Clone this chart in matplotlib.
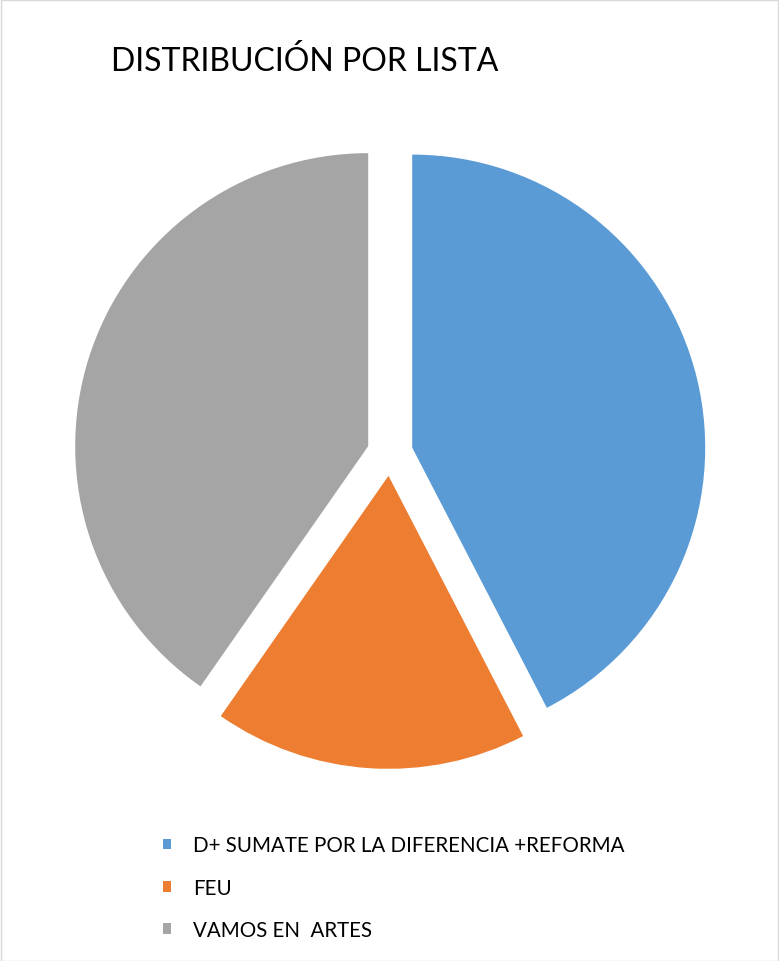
import matplotlib.pyplot as plt
from matplotlib.patches import Rectangle

# slice shares (%)
labels = ["D+ SUMATE POR LA DIFERENCIA +REFORMA", "FEU", "VAMOS EN  ARTES"]
shares = [42.4, 17.3, 40.3]
colors = ["#5B9BD5", "#ED7D31", "#A5A5A5"]
title = "DISTRIBUCIÓN POR LISTA"

W, H = 779, 962
fig = plt.figure(figsize=(W / 100, H / 100), dpi=100)
plt.rcParams["font.family"] = ["Lato", "DejaVu Sans"]

# pie centre ~ (390, 453) px, radius ~292 px
cx, cy, r = 390, 454, 293
ax = fig.add_axes([(cx - r) / W, (H - cy - r) / H, 2 * r / W, 2 * r / H])
wedges, _ = ax.pie(
    shares,
    colors=colors,
    startangle=90,
    counterclock=False,
    explode=[0.078] * 3,
    radius=1.0,
    wedgeprops={"linewidth": 0},
)
for w in wedges:
    w.set_clip_on(False)
ax.set_xlim(-1, 1)
ax.set_ylim(-1, 1)
ax.set_aspect("equal")
ax.axis("off")

fig.text(111 / W, 1 - 71 / H, title, fontsize=23, color="#000000",
         ha="left", va="baseline")

fig.legend(
    wedges,
    labels,
    loc="upper left",
    bbox_to_anchor=(144 / W, 1 - 818 / H),
    frameon=False,
    fontsize=14.8,
    handlelength=0.42,
    handleheight=0.42,
    handletextpad=1.05,
    labelspacing=1.08,
)

fig.patches.append(Rectangle((0.5 / W, 0.5 / H), 1 - 1.5 / W, 1 - 1.5 / H,
                             transform=fig.transFigure, fill=False,
                             edgecolor="#D9D9D9", linewidth=1))

fig.savefig("out.png", dpi=100, facecolor="white")
